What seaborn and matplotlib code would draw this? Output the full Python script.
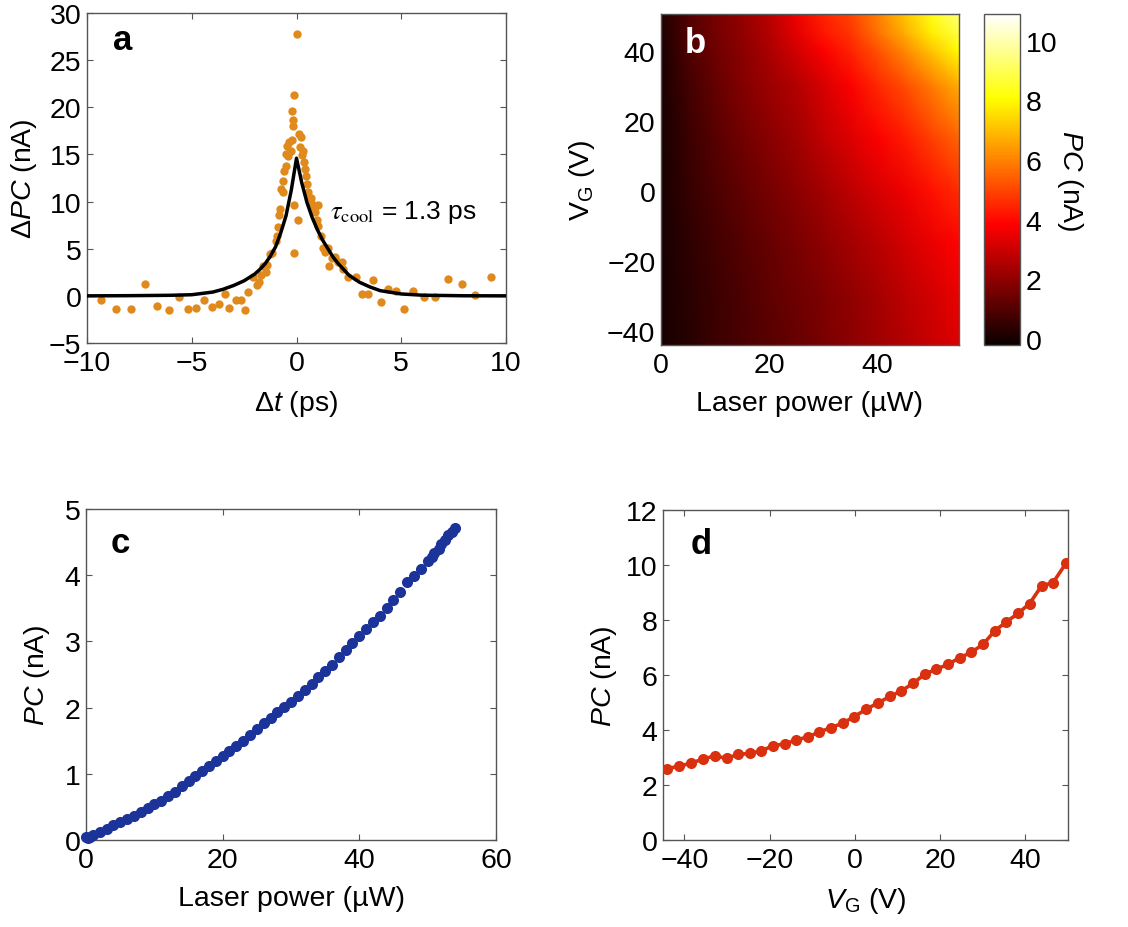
import numpy as np
import pandas as pd
import matplotlib
matplotlib.use("Agg")
import matplotlib.pyplot as plt
import seaborn as sns

# ---------------- data ----------------
# panel a: pump-probe scatter
dt_ps = [-9.35, -8.6, -7.9, -7.25, -6.67, -6.1, -5.6, -5.2, -4.8, -4.4, -4.05, -3.7,
         -3.4, -3.2, -2.9, -2.65, -2.45, -2.3, -2.1, -1.9, -1.8, -1.7, -1.6, -1.45,
         -1.4, -1.25, -1.15, -1.0, -0.95, -0.9, -0.85, -0.78, -0.75, -0.66, -0.63,
         -0.58, -0.52, -0.5, -0.44, -0.39, -0.34, -0.28, -0.23, -0.2, -0.17, -0.15,
         -0.12, -0.11, -0.1, 0.02, 0.09, 0.12, 0.2, 0.15, 0.26, 0.29, 0.36, 0.4,
         0.45, 0.5, 0.56, 0.63, 0.71, 0.76, 0.84, 0.88, 0.96, 1.04, 1.05, 1.16,
         1.28, 1.36, 1.5, 1.57, 1.68, 1.84, 1.97, 2.16, 2.24, 2.48, 2.85, 3.12,
         3.39, 3.67, 4.03, 4.39, 4.74, 5.15, 5.58, 6.09, 6.62, 7.22, 7.89, 8.53, 9.28]
dpc_na = [-0.4, -1.4, -1.4, 1.3, -1.1, -1.55, -0.15, -1.4, -1.3, -0.45, -1.15, -0.9,
          0.2, -1.3, -0.4, -0.4, -1.55, 0.4, 2.05, 1.1, 1.5, 2.2, 3.2, 2.5,
          3.3, 4.45, 4.55, 5.8, 6.3, 7.3, 8.6, 9.2, 11.3, 11.05, 12.2,
          13.2, 13.8, 15.05, 15.9, 14.85, 16.3, 15.4, 16.5, 19.65, 18.6, 18.0,
          21.35, 9.6, 4.55, 27.8, 8.0, 17.2, 16.8, 15.75, 14.9, 15.4, 14.2, 13.5,
          12.75, 11.9, 11.0, 10.35, 10.35, 9.75, 9.3, 8.85, 8.0, 9.6, 7.45, 6.3,
          5.05, 4.6, 5.05, 3.2, 4.0, 4.1, 3.55, 3.55, 2.85, 2.0, 2.05, 0.2,
          0.2, 1.7, -0.65, 0.75, 0.55, -1.4, 0.5, -0.15, -0.15, 1.8, 1.3, 0.05, 2.05]
# panel a: fitted curve
fit_t = [-10, -8, -6, -5, -4, -3.5, -3, -2.5, -2, -1.75, -1.5, -1.25, -1, -0.75,
         -0.5, -0.25, 0, 0.25, 0.5, 0.75, 1, 1.25, 1.5, 1.75, 2, 2.5, 3, 3.5, 4,
         5, 6, 8, 10]
fit_pc = [0.0, 0.02, 0.06, 0.12, 0.4, 0.7, 1.1, 1.6, 2.3, 2.8, 3.4, 4.2, 5.2, 6.7,
          8.5, 11.2, 14.6, 12.0, 9.9, 8.3, 7.0, 5.9, 5.0, 4.1, 3.4, 2.2, 1.45, 0.95,
          0.55, 0.2, 0.07, 0.01, 0.0]

# panel b: photocurrent map (rows: gate voltage, cols: laser power)
map_power = [0, 5, 10, 15, 20, 25, 30, 35, 40, 45, 50, 55]
map_vg = [-44, -30, -15, 0, 15, 30, 40, 45, 50.5]
map_pc_vm44 = [0.03, 0.30, 0.60, 0.85, 1.10, 1.35, 1.65, 1.95, 2.25, 2.60, 2.95, 3.30]
map_pc_vm30 = [0.03, 0.35, 0.65, 0.90, 1.20, 1.45, 1.75, 2.05, 2.40, 2.75, 3.10, 3.50]
map_pc_vm15 = [0.05, 0.40, 0.75, 1.05, 1.35, 1.65, 2.00, 2.35, 2.70, 3.10, 3.50, 3.90]
map_pc_v0 = [0.05, 0.50, 0.90, 1.25, 1.60, 1.95, 2.35, 2.75, 3.20, 3.60, 4.10, 4.60]
map_pc_v15 = [0.05, 0.60, 1.10, 1.50, 1.90, 2.30, 2.80, 3.30, 3.80, 4.30, 4.90, 5.50]
map_pc_v30 = [0.10, 0.75, 1.30, 1.80, 2.20, 2.60, 3.20, 3.80, 4.50, 5.10, 5.90, 6.70]
map_pc_v40 = [0.10, 0.90, 1.45, 1.95, 2.45, 3.10, 3.80, 4.40, 5.20, 6.10, 7.10, 8.00]
map_pc_v45 = [0.12, 0.95, 1.55, 2.05, 2.60, 3.40, 4.20, 4.70, 5.70, 6.70, 7.80, 8.80]
map_pc_v50 = [0.15, 1.00, 1.60, 2.10, 2.70, 3.60, 4.40, 5.00, 6.00, 7.10, 8.30, 9.40]

# panel c: PC vs laser power
power_uw = [0, 0.3, 0.6, 1, 2, 3, 4, 5, 6, 7, 8, 9, 10, 11, 12, 13, 14, 15, 16, 17,
            18, 19, 20, 21, 22, 23, 24, 25, 26, 27, 28, 29, 30, 31, 32, 33, 34, 35,
            36, 37, 38, 39, 40, 41, 42, 43, 44, 45, 46, 47, 48, 49, 50, 50.7, 51,
            51.7, 52, 52.5, 53, 53.5, 54]
pc_power = [0.05, 0.03, 0.05, 0.07, 0.12, 0.17, 0.22, 0.27, 0.32, 0.37, 0.42, 0.48,
            0.54, 0.59, 0.66, 0.73, 0.81, 0.89, 0.97, 1.04, 1.12, 1.19, 1.27, 1.34,
            1.42, 1.50, 1.58, 1.67, 1.76, 1.85, 1.93, 2.01, 2.09, 2.17, 2.27, 2.36,
            2.46, 2.55, 2.65, 2.76, 2.87, 2.98, 3.08, 3.18, 3.29, 3.39, 3.51, 3.62,
            3.74, 3.90, 3.99, 4.10, 4.21, 4.28, 4.33, 4.40, 4.47, 4.53, 4.60, 4.66, 4.72]

# panel d: PC vs gate voltage
vg_v = [-44.0, -41.2, -38.4, -35.6, -32.9, -30.1, -27.4, -24.7, -21.9, -19.2, -16.5,
        -13.7, -11.0, -8.3, -5.5, -2.8, -0.1, 2.7, 5.4, 8.2, 10.9, 13.7, 16.4, 19.1,
        21.9, 24.6, 27.3, 30.1, 32.8, 35.5, 38.3, 41.0, 43.8, 46.5, 49.6]
pc_vg = [2.60, 2.68, 2.80, 2.94, 3.06, 2.97, 3.11, 3.15, 3.24, 3.43, 3.49, 3.64, 3.75,
         3.93, 4.09, 4.25, 4.49, 4.76, 4.98, 5.22, 5.42, 5.70, 6.03, 6.21, 6.39, 6.63,
         6.82, 7.12, 7.60, 7.93, 8.24, 8.60, 9.24, 9.36, 10.08]

# ---------------- style ----------------
sns.set_style("ticks")
frame = "#555555"
plt.rcParams.update({
    "font.family": ["Liberation Sans", "DejaVu Sans"],
    "mathtext.fontset": "custom",
    "mathtext.rm": "Liberation Sans",
    "mathtext.it": "Liberation Sans:italic",
    "mathtext.bf": "Liberation Sans:bold",
    "text.color": "black",
    "axes.edgecolor": frame,
    "axes.linewidth": 1.0,
    "xtick.direction": "in", "ytick.direction": "in",
    "xtick.top": True, "ytick.right": True,
    "xtick.color": frame, "ytick.color": frame,
    "xtick.labelcolor": "black", "ytick.labelcolor": "black",
    "xtick.labelsize": 20.5, "ytick.labelsize": 20.5,
    "xtick.major.size": 4, "ytick.major.size": 4,
    "xtick.major.pad": 5, "ytick.major.pad": 4,
    "axes.labelsize": 20.5,
    "axes.labelcolor": "black",
    "axes.labelpad": 5,
})

orange = "#e0891c"
blue = "#1c3399"
red = "#d9300f"

W, H = 1128, 928
fig = plt.figure(figsize=(W / 100, H / 100), dpi=100)


def box(x0, y0, x1, y1):
    return [x0 / W, 1 - y1 / H, (x1 - x0) / W, (y1 - y0) / H]


ax_a = fig.add_axes(box(87, 14, 506, 344))
ax_b = fig.add_axes(box(661, 15, 959, 346))
cax = fig.add_axes(box(984, 15, 1020, 346))
ax_c = fig.add_axes(box(86, 510, 496, 841))
ax_d = fig.add_axes(box(663, 511, 1068, 841))

# ---- panel a ----
sns.scatterplot(x=dt_ps, y=dpc_na, ax=ax_a, color=orange, s=36, linewidth=0, zorder=2)
sns.lineplot(x=fit_t, y=fit_pc, ax=ax_a, color="black", lw=2.5, zorder=3)
ax_a.set_xlim(-10, 10)
ax_a.set_ylim(-5, 30)
ax_a.set_xticks([-10, -5, 0, 5, 10])
ax_a.set_yticks([-5, 0, 5, 10, 15, 20, 25, 30])
ax_a.set_xlabel("Δ$t$ (ps)", labelpad=9)
ax_a.set_ylabel("Δ$PC$ (nA)", labelpad=7)
ax_a.text(0.062, 0.92, "a", transform=ax_a.transAxes, fontsize=25, fontweight="bold",
          ha="left", va="center")
ax_a.text(1.6, 9.0, r"$\tau_{\mathrm{cool}}$ = 1.3 ps", fontsize=19, math_fontfamily="stix",
          ha="left", va="center")

# ---- panel b ----
Z = np.array([map_pc_vm44, map_pc_vm30, map_pc_vm15, map_pc_v0, map_pc_v15,
              map_pc_v30, map_pc_v40, map_pc_v45, map_pc_v50])
PP, VV = np.meshgrid(map_power, map_vg)
mesh = ax_b.pcolormesh(PP, VV, Z, shading="gouraud", cmap="hot", vmin=-0.2, vmax=10.9,
                       rasterized=True)
ax_b.set_xlim(0, 55)
ax_b.set_ylim(-44, 50.5)
ax_b.set_xticks([0, 20, 40])
ax_b.set_yticks([-40, -20, 0, 20, 40])
ax_b.tick_params(length=0)
ax_b.set_xlabel("Laser power (µW)", labelpad=9)
ax_b.set_ylabel("$\\mathregular{V_G}$ (V)", labelpad=7)
ax_b.text(0.08, 0.915, "b", transform=ax_b.transAxes, fontsize=25, fontweight="bold",
          color="white", ha="left", va="center")
cb = fig.colorbar(mesh, cax=cax)
cb.set_ticks([0, 2, 4, 6, 8, 10])
cb.ax.tick_params(direction="in", length=4, color=frame, labelsize=20.5, right=True,
                  left=False, pad=4)
cb.outline.set_edgecolor(frame)
cb.set_label("$PC$ (nA)", rotation=270, fontsize=20.5, labelpad=20)

# ---- panel c ----
sns.scatterplot(x=power_uw, y=pc_power, ax=ax_c, color=blue, s=64, linewidth=0, zorder=3,
                clip_on=False)
ax_c.set_xlim(0, 60)
ax_c.set_ylim(0, 5)
ax_c.set_xticks([0, 20, 40, 60])
ax_c.set_yticks([0, 1, 2, 3, 4, 5])
ax_c.set_xlabel("Laser power (µW)", labelpad=9)
ax_c.set_ylabel("$PC$ (nA)", labelpad=9)
ax_c.text(0.059, 0.90, "c", transform=ax_c.transAxes, fontsize=25, fontweight="bold",
          ha="left", va="center")

# ---- panel d ----
sns.lineplot(x=vg_v, y=pc_vg, ax=ax_d, color=red, lw=2.6, marker="o", markersize=8,
             markeredgewidth=0, zorder=3)
ax_d.set_xlim(-45, 50)
ax_d.set_ylim(0, 12)
ax_d.set_xticks([-40, -20, 0, 20, 40])
ax_d.set_yticks([0, 2, 4, 6, 8, 10, 12])
ax_d.set_xlabel("$V_\\mathrm{G}$ (V)", labelpad=9)
ax_d.set_ylabel("$PC$ (nA)", labelpad=5)
ax_d.text(0.067, 0.90, "d", transform=ax_d.transAxes, fontsize=25, fontweight="bold",
          ha="left", va="center")

fig.savefig("out.png", dpi=100)
